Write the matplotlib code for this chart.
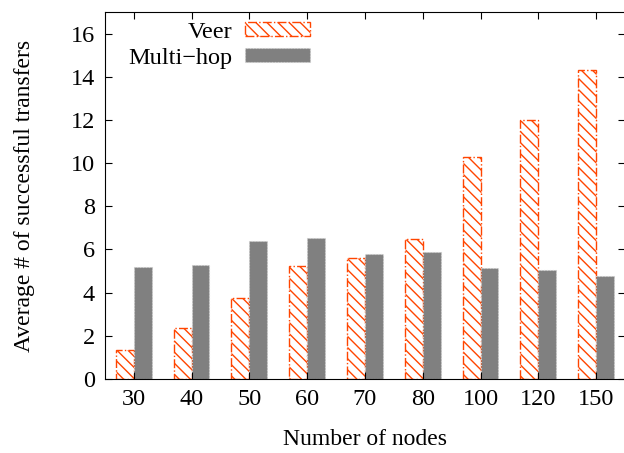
import numpy as np
import matplotlib.pyplot as plt

plt.rcParams['font.family'] = ['Liberation Serif', 'DejaVu Serif']
plt.rcParams['hatch.linewidth'] = 1.0

nodes = ['30', '40', '50', '60', '70', '80', '100', '120', '150']
veer = [1.35, 2.37, 3.76, 5.24, 5.6, 6.5, 10.3, 12.0, 14.3]
multihop = [5.2, 5.3, 6.37, 6.54, 5.8, 5.87, 5.16, 5.07, 4.78]

fig = plt.figure(figsize=(6.24, 4.53), dpi=100)
ax = fig.add_axes([0.168, 0.1634, 0.8336, 0.8101])

x = np.arange(len(nodes))
w = 0.31
ax.bar(x - w / 2, veer, w, facecolor='white', edgecolor='#ff4500',
       hatch='\\\\\\', linestyle='-.', linewidth=1.0, label='Veer')
ax.bar(x + w / 2, multihop, w, facecolor='#808080', edgecolor='#d0d0d0',
       linestyle=':', linewidth=0.8, label='Multi\u2212hop')

ax.set_xlim(-0.5, 8.5)
ax.set_ylim(0, 17)
ax.set_xticks(x)
ax.set_xticklabels(nodes)
ax.set_yticks(range(0, 17, 2))
ax.tick_params(direction='in', top=True, right=True, labelsize=17.5, length=5,
               pad=7)
ax.set_xlabel('Number of nodes', fontsize=17, labelpad=14)
ax.set_ylabel('Average # of successful transfers', fontsize=17, labelpad=26)

ax.legend(loc='upper left', bbox_to_anchor=(0.003, 1.033), frameon=False,
          markerfirst=False, fontsize=17.5, handlelength=2.7, handleheight=0.55,
          handletextpad=0.5, labelspacing=0.2)

fig.savefig('out.png', dpi=100)
